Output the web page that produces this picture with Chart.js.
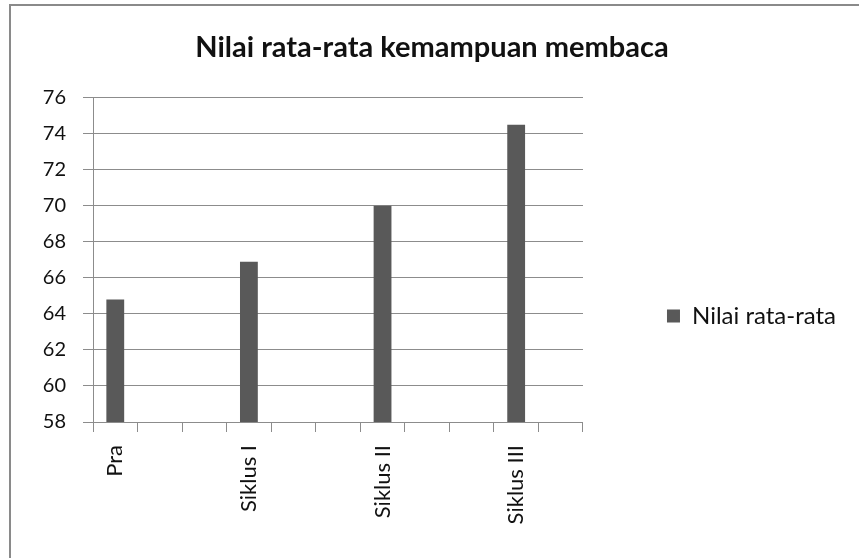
<!DOCTYPE html>
<html>
<head>
<meta charset="utf-8">
<title>Nilai rata-rata kemampuan membaca</title>
<script src="https://cdn.jsdelivr.net/npm/chart.js@4.4.1/dist/chart.umd.min.js"></script>
<style>
  body { margin: 0; background: #fff; }
</style>
</head>
<body>
<canvas id="myChart" width="859" height="558"></canvas>
<script>
// data from the chart
const kategori = ['Pra', '', '', 'Siklus I', '', '', 'Siklus II', '', '', 'Siklus III', ''];
const nilaiRataRata = [64.8, null, null, 66.9, null, null, 70, null, null, 74.5, null];
const yTicks = [58, 60, 62, 64, 66, 68, 70, 72, 74, 76];

const gridColor = '#8c8c8c';
const textColor = '#111';

Chart.defaults.font.family = 'Lato, "Open Sans", sans-serif';

// frame lines like the original picture (left + top)
const rahmen = {
  id: 'rahmen',
  beforeDraw(chart) {
    const c = chart.ctx;
    c.save();
    c.fillStyle = '#fff';
    c.fillRect(0, 0, chart.width, chart.height);
    c.strokeStyle = '#8a8a8a';
    c.lineWidth = 2;
    c.beginPath();
    c.moveTo(10, chart.height);
    c.lineTo(10, 5);
    c.lineTo(chart.width, 5);
    c.stroke();
    c.restore();
  }
};

const ctx = document.getElementById('myChart');

new Chart(ctx, {
  type: 'bar',
  data: {
    labels: kategori,
    datasets: [{
      label: 'Nilai rata-rata',
      data: nilaiRataRata,
      backgroundColor: '#595959',
      borderWidth: 0,
      categoryPercentage: 1,
      barPercentage: 0.4
    }]
  },
  options: {
    responsive: false,
    animation: false,
    layout: {
      padding: { top: 0, left: 18, right: 13, bottom: 16 }
    },
    plugins: {
      title: {
        display: true,
        text: 'Nilai rata-rata kemampuan membaca',
        color: textColor,
        font: { size: 29, weight: 'bold', lineHeight: 1.2 },
        padding: { top: 30, bottom: 33 }
      },
      legend: {
        position: 'right',
        fullSize: false,
        maxWidth: 300,
        title: {
          display: true,
          text: ' ',
          font: { size: 10 },
          padding: { top: 100, bottom: 0 }
        },
        labels: {
          boxWidth: 13,
          boxHeight: 13,
          padding: 84,
          color: textColor,
          font: { size: 24 }
        }
      },
      tooltip: { enabled: false }
    },
    scales: {
      x: {
        // fixed height so the plot bottom sits at the 58 line of the original
        afterFit(scale) {
          scale.height = 120;
          scale.paddingLeft = 0;
          scale.paddingRight = 0;
        },
        grid: {
          offset: true,
          drawOnChartArea: false,
          tickLength: 10,
          color: gridColor
        },
        border: { color: gridColor },
        ticks: {
          autoSkip: false,
          maxRotation: 90,
          minRotation: 90,
          padding: 13,
          color: textColor,
          font: { size: 22 }
        }
      },
      y: {
        afterFit(scale) {
          scale.width = 75;
        },
        min: yTicks[0],
        max: yTicks[yTicks.length - 1],
        grid: { color: gridColor, tickLength: 10 },
        border: { color: gridColor },
        ticks: {
          stepSize: yTicks[1] - yTicks[0],
          padding: 17,
          color: textColor,
          font: { size: 20 }
        }
      }
    }
  },
  plugins: [rahmen]
});
</script>
</body>
</html>
